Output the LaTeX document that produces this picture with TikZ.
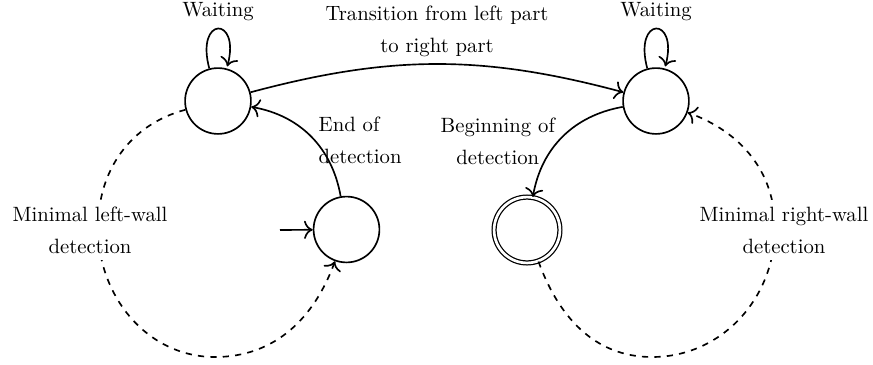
\documentclass[tikz,border=0pt]{standalone}
\usetikzlibrary{arrows.meta}
\begin{document}
\begin{tikzpicture}[x=0.483pt,y=-0.483pt,
  >={Computer Modern Rightarrow[scale=1.25]},
  state/.style={circle,draw,thick,minimum size=31.8pt,inner sep=0pt},
  acc/.style={double,double distance=1.3pt,semithick},
  tr/.style={->,thick},
  wall/.style={dashed,thick,->},
  lbl/.style={font=\fontsize{10pt}{15.4pt}\selectfont},
]
\useasboundingbox (0,0) rectangle (873,364);
\node[state] (A) at (218,101) {};
\node[state] (B) at (656,101) {};
\node[state] (C) at (346.5,229.5) {};
\node[state,acc] (D) at (527,230) {};
\coordinate (ini) at (280,230);
\coordinate (lw) at (98,228);
\coordinate (lb) at (215,357);
\coordinate (rw) at (775,228);
\coordinate (rb) at (652,357);

\draw[tr] (ini) -- (C);
\path[tr] (A) edge[loop above] node[lbl,above]{Waiting} ();
\path[tr] (B) edge[loop above] node[lbl,above]{Waiting} ();
\draw[tr] (A) to[bend left=15] node[lbl,above,align=center]{Transition from left part\\to right part} (B);
\draw[tr] (C) to[bend right=35] node[lbl,right,align=left,yshift=-2pt]{End of\\detection} (A);
\draw[tr] (B) to[bend right=35] node[lbl,left,align=center,yshift=-2pt]{Beginning of\\detection} (D);

\draw[wall] (A) to[out=195,in=90] (lw) to[out=-90,in=180] (lb) to[out=0,in=250] (C);
\draw[wall] (D) to[out=-70,in=180] (rb) to[out=0,in=-90] (rw) to[out=90,in=-20] (B);

\node[lbl,fill=white,align=center] (lwl) at (90,230) {Minimal left-wall\\detection};
\node[lbl,fill=white,align=center] (rwl) at (784,230) {Minimal right-wall\\detection};
\end{tikzpicture}
\end{document}
